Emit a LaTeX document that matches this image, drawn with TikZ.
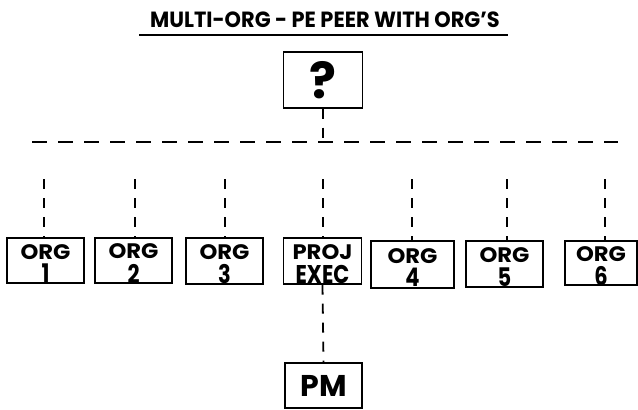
\documentclass[tikz,border=0pt]{standalone}
\usepackage{fontspec}
\setmainfont{Poppins}[BoldFont={* Bold}]
\begin{document}
\begin{tikzpicture}[x=1pt,y=-1pt,
  unit/.style={draw,line width=1.4pt,rectangle,inner sep=0pt,align=center},
  utext/.style={inner sep=0pt,align=center,font=\bfseries\fontsize{21}{19}\selectfont},
  link/.style={line width=1.8pt,dash pattern=on 10pt off 9pt},
  bus/.style={line width=1.8pt,dash pattern=on 15pt off 11pt}]
\useasboundingbox (0,0) rectangle (638,410);
% title
\node[font=\bfseries\fontsize{22}{22}\selectfont] (title) at (325,20)
  {\scalebox{0.95}[1]{MULTI-ORG - PE PEER WITH ORG'S}};
\draw[line width=1.3pt] (139,35) -- (508,35);
% top box
\node[unit,minimum width=79pt,minimum height=56pt,font=\bfseries\fontsize{50}{50}\selectfont] (q) at (323,80) {?};
% peer units: frames, then their two-line labels set a little low
\newcommand{\twoline}[2]{\scalebox{1.08}[1]{#1}\\[4.5pt]\scalebox{1}[1.22]{#2}}
\node[unit,minimum width=77pt,minimum height=45pt] (o1) at (45.5,260.5) {};
\node[unit,minimum width=77pt,minimum height=45pt] (o2) at (133.5,260.5) {};
\node[unit,minimum width=77pt,minimum height=46pt] (o3) at (224.5,261) {};
\node[unit,minimum width=78pt,minimum height=46pt] (pe) at (322.5,261) {};
\node[unit,minimum width=83pt,minimum height=47pt] (o4) at (412.5,264.5) {};
\node[unit,minimum width=77pt,minimum height=46pt] (o5) at (504.5,264) {};
\node[unit,minimum width=72pt,minimum height=44pt] (o6) at (601,263) {};
\foreach \n/\a/\b in {o1/ORG/1,o2/ORG/2,o3/ORG/3,pe/PROJ/EXEC,o4/ORG/4,o5/ORG/5,o6/ORG/6}{
  \node[utext] (\n txt) at ([yshift=-3pt]\n.center) {\twoline{\a}{\b}};
}
\node[unit,minimum width=77pt,minimum height=45pt,font=\bfseries\fontsize{30}{30}\selectfont] (pm) at (323.5,385.5) {PM};
% dashed bus and drops
\coordinate (busL) at (32,142);
\coordinate (busR) at (618,142);
\coordinate (busC) at (323,142);
\draw[bus] (busL) -- (busR);
\draw[link] (q.south) -- (busC);
\foreach \n/\x in {o1/44,o2/135,o3/225,pe/323,o4/412,o5/507,o6/605}{
  \coordinate (\n top) at (\x,179);
  \draw[link] (\n top) -- (\n top |- \n.north);
}
\draw[link] (pe.south) -- (pm.north);
\end{tikzpicture}
\end{document}
